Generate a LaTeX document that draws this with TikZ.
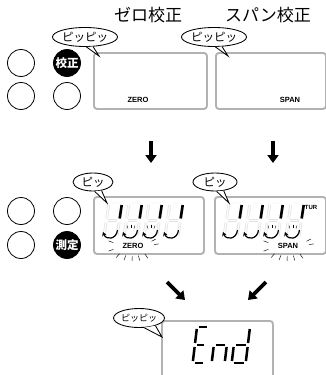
\documentclass[tikz,border=0pt]{standalone}
\usepackage{fontspec}
\setmainfont{Liberation Sans}
\newfontfamily\cjk{Noto Sans CJK JP}
\usetikzlibrary{shapes.geometric,arrows.meta,calc}
\tikzset{
  btn/.style={circle,draw,line width=0.8pt,minimum size=27pt,inner sep=0pt},
  btnon/.style={btn,fill=black,text=white,font=\cjk\bfseries\fontsize{11.5}{11.5}\selectfont},
  panel/.style={draw=gray!60,line width=1.9pt,rounded corners=3pt,anchor=north west,inner sep=0pt},
  bubble/.style={ellipse,draw,fill=white,line width=0.85pt,inner sep=0pt,font=\cjk\fontsize{11.5}{11.5}\selectfont},
  title/.style={font=\cjk\fontsize{17}{17}\selectfont,inner sep=0pt},
  lbl/.style={font=\bfseries\fontsize{7.5}{8}\selectfont,inner sep=0pt},
  bigarrow/.style={line width=3.8pt,-{Triangle[width=11pt,length=8pt]}},
  seggray/.style={line width=2.8pt,draw=gray!22},
  seginner/.style={line width=1.4pt,draw=gray!3},
  segon/.style={line width=2.6pt,draw=black},
  segend/.style={line width=2.5pt,draw=black},
  curvarr/.style={line width=1.2pt,-{Stealth[length=4pt,width=4.5pt]}},
  tick/.style={line width=0.45pt},
  ray/.style={line width=0.45pt}
}
\newcommand\lcddigit[2]{%
  \begin{scope}[shift={(#1,#2)},xslant=0.15]
    \foreach \xa/\ya/\xb/\yb in {2/0/11/0, 13/2/13/15.5, 13/19.5/13/33, 2/35/11/35, 0/19.5/0/33, 0/2/0/15.5, 2/17.5/11/17.5}
      {\draw[seggray] (\xa,\ya) -- (\xb,\yb); \draw[seginner] (\xa,\ya) -- (\xb,\yb);}
    \draw[segon] (13,2) -- (13,15.5);
  \end{scope}}
\newcommand\rotarrow[1]{%
  \draw[curvarr] (#1+7.5,230) .. controls (#1+6.5,239.5) and (#1-4,240.5) .. (#1-7,232);}
\newcommand\flash[1]{%
  \draw[tick] (#1-3,225.5) -- (#1-2,228.5);
  \draw[tick] (#1+1,224.5) -- (#1+1,227.5);
  \draw[tick] (#1+5,225.5) -- (#1+4,228.5);}
\newcommand\rays[2]{%
  \foreach \t in {160,200,-8,-28,55,75,92,110,130}
    {\draw[ray] ($(#1,#2)+(\t:21 and 10)$) -- ($(#1,#2)+(\t:26 and 15)$);}}
\newcommand\tail[4]{%
  \fill[white] (#1.#2) -- (#4) -- (#1.#3) -- cycle;
  \draw[line width=0.85pt,line join=miter] (#1.#2) -- (#4) -- (#1.#3);}
\begin{document}
\begin{tikzpicture}[x=1pt,y=-1pt]
\useasboundingbox (0,0) rectangle (326,375);
\clip (0,0) rectangle (326,375);
% titles
\node[title] (t1) at (148,15) {ゼロ校正};
\node[title] (t2) at (268,15) {スパン校正};
% top buttons
\node[btn] (k1) at (21,63) {};
\node[btnon] (k2) at (67,63) {校正};
\node[btn] (k3) at (21,96) {};
\node[btn] (k4) at (67,96) {};
% top panels
\node[panel,minimum width=113pt,minimum height=56pt] (p1) at (93,52) {};
\node[panel,minimum width=110pt,minimum height=56pt] (p2) at (215,52) {};
\node[lbl] (z1) at (138,100) {ZERO};
\node[lbl] (s1) at (290,100) {SPAN};
% top bubbles
\node[bubble,minimum width=53pt,minimum height=19pt] (b1) at (85,37) {ピッピッ};
\coordinate (b1t) at (99,56);
\tail{b1}{-82}{-50}{b1t}
\node[bubble,minimum width=53pt,minimum height=19pt] (b2) at (214,37) {ピッピッ};
\coordinate (b2t) at (228,56);
\tail{b2}{-82}{-50}{b2t}
% down arrows
\coordinate (d1s) at (151,141); \coordinate (d1e) at (151,163);
\coordinate (d2s) at (273,141); \coordinate (d2e) at (273,163);
\draw[bigarrow] (d1s) -- (d1e);
\draw[bigarrow] (d2s) -- (d2e);
% middle buttons
\node[btn] (m1) at (21,211) {};
\node[btn] (m2) at (67,211) {};
\node[btn] (m3) at (21,245) {};
\node[btnon] (m4) at (67,245) {測定};
% middle panels
\node[panel,minimum width=110pt,minimum height=57pt] (p3) at (93,196) {};
\node[panel,minimum width=111pt,minimum height=57pt] (p4) at (214,196) {};
\lcddigit{109}{203}\lcddigit{129}{203}\lcddigit{149}{203}\lcddigit{170}{203}
\lcddigit{229}{203}\lcddigit{250}{203}\lcddigit{270}{203}\lcddigit{291}{203}
\rotarrow{110}\rotarrow{130}\rotarrow{150}\rotarrow{171}
\rotarrow{230}\rotarrow{251}\rotarrow{271}\rotarrow{292}
\flash{130}\flash{150}\flash{271}\flash{292}
\node[font=\bfseries\fontsize{6}{6}\selectfont,inner sep=0pt] (tur) at (311,207) {TUR};
\node[lbl] (z2) at (133,246) {ZERO};
\node[lbl] (s2) at (288,246) {SPAN};
\rays{133}{246}
\rays{288}{246}
% middle bubbles
\node[bubble,minimum width=40pt,minimum height=18pt] (b3) at (93,182) {ピッ};
\coordinate (b3t) at (107,203);
\tail{b3}{-80}{-45}{b3t}
\node[bubble,minimum width=44pt,minimum height=18pt] (b4) at (215,182) {ピッ};
\coordinate (b4t) at (229,203);
\tail{b4}{-80}{-45}{b4t}
% diagonal arrows
\coordinate (e1s) at (167,282); \coordinate (e1e) at (185,300);
\coordinate (e2s) at (266,282); \coordinate (e2e) at (248,300);
\draw[bigarrow] (e1s) -- (e1e);
\draw[bigarrow] (e2s) -- (e2e);
% end panel
\node[panel,minimum width=111pt,minimum height=80pt] (p5) at (161,320) {};
\begin{scope}[shift={(197,327)},xslant=0.12]
  \foreach \xa/\ya/\xb/\yb in {2/0/10/0, 0/2/0/16, 0/20/0/34, 2/36/10/36, 2/18/9/18}
    {\draw[segend] (\xa,\ya) -- (\xb,\yb);}
\end{scope}
\begin{scope}[shift={(216,327)},xslant=0.12]
  \foreach \xa/\ya/\xb/\yb in {2/18/11/18, 0/20/0/34, 13/20/13/34}
    {\draw[segend] (\xa,\ya) -- (\xb,\yb);}
\end{scope}
\begin{scope}[shift={(236,327)},xslant=0.12]
  \foreach \xa/\ya/\xb/\yb in {14/2/14/16, 14/20/14/34, 2/36/12/36, 0/20/0/34, 2/18/12/18}
    {\draw[segend] (\xa,\ya) -- (\xb,\yb);}
\end{scope}
% end bubble
\node[bubble,minimum width=38pt,minimum height=19pt,font=\cjk\fontsize{9}{9}\selectfont] (b5) at (139,318) {ピッピッ};
\coordinate (b5t) at (162,337);
\tail{b5}{-62}{-25}{b5t}
\end{tikzpicture}
\end{document}
